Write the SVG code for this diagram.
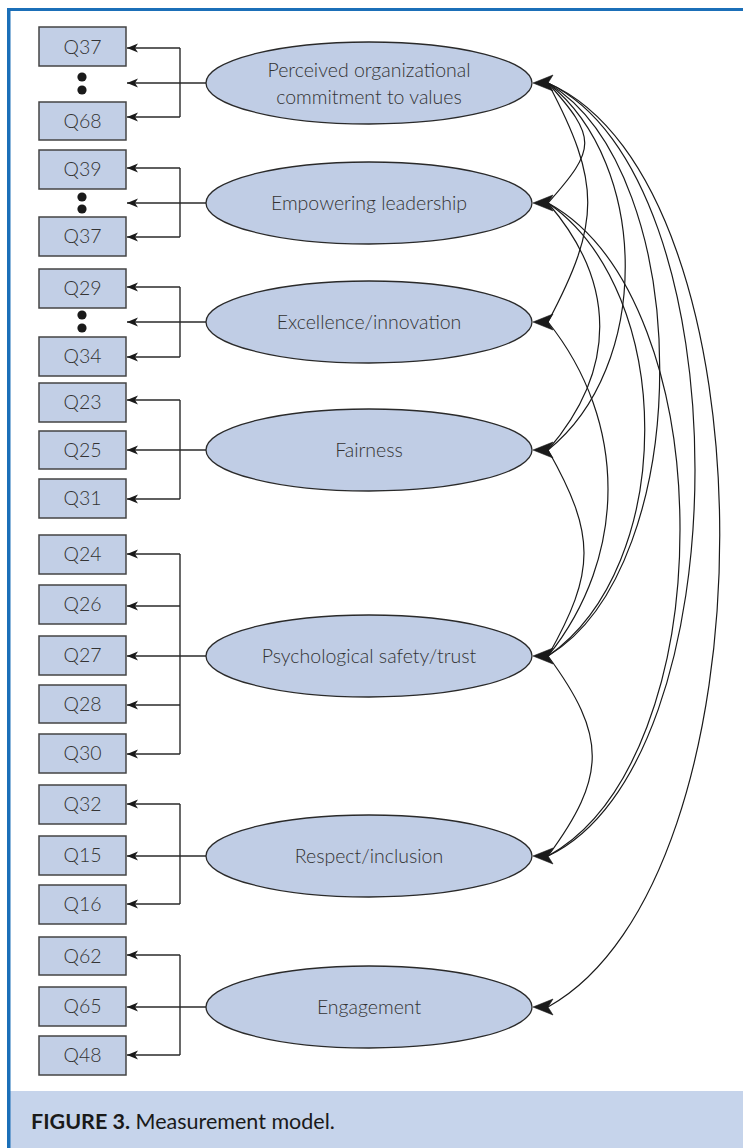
<svg xmlns="http://www.w3.org/2000/svg" width="743" height="1148" viewBox="0 0 743 1148">
<style>
.box{fill:#c2cfe6;stroke:#444;stroke-width:1.5}
.ell{fill:#c0cde5;stroke:#2a2a2a;stroke-width:1.3}
.bt{font-family:Lato,"Open Sans",sans-serif;font-weight:300;font-size:19.5px;fill:#333;text-anchor:middle}
.et{font-family:Lato,"Open Sans",sans-serif;font-weight:300;font-size:19.5px;fill:#333;text-anchor:middle}
.ln{fill:none;stroke:#2a2a2a;stroke-width:1.4}
.cv{fill:none;stroke:#1a1a1a;stroke-width:1.2}
.arr{marker-end:url(#sa)}
.dot{fill:#1a1a1a}
.bh{fill:#1a1a1a;stroke:#1a1a1a;stroke-width:0.6}
.cap{font-family:Lato,"Open Sans",sans-serif;font-size:21.5px;fill:#1a1a1a}
</style>
<defs>
<marker id="sa" markerUnits="userSpaceOnUse" markerWidth="12" markerHeight="10" viewBox="0 -5 12 10" refX="11" refY="0" orient="auto">
<path d="M0,-4.5 L11,0 L0,4.5 L3,0 Z" fill="#1a1a1a"/>
</marker>
</defs>
<rect x="0" y="0" width="743" height="1148" fill="#fff"/>
<rect x="10" y="1091" width="733" height="57" fill="#c6d4eb"/>
<rect x="7" y="8" width="736" height="3" fill="#1b6fb8"/>
<rect x="7" y="8" width="3.5" height="1140" fill="#1b6fb8"/>

<g id="connectors">
<path class="ln arr" d="M206,83 H127"/>
<path class="ln" d="M180,48 V117"/>
<path class="ln arr" d="M180,48 H127"/>
<path class="ln arr" d="M180,117 H127"/>

<path class="ln arr" d="M206,203 H127"/>
<path class="ln" d="M180,168 V237"/>
<path class="ln arr" d="M180,168 H127"/>
<path class="ln arr" d="M180,237 H127"/>

<path class="ln arr" d="M206,322 H127"/>
<path class="ln" d="M180,287 V357"/>
<path class="ln arr" d="M180,287 H127"/>
<path class="ln arr" d="M180,357 H127"/>

<path class="ln arr" d="M206,450 H127"/>
<path class="ln" d="M180,400 V499"/>
<path class="ln arr" d="M180,400 H127"/>
<path class="ln arr" d="M180,499 H127"/>

<path class="ln arr" d="M206,656 H127"/>
<path class="ln" d="M180,554 V754"/>
<path class="ln arr" d="M180,554 H127"/>
<path class="ln arr" d="M180,606 H127"/>
<path class="ln arr" d="M180,705 H127"/>
<path class="ln arr" d="M180,754 H127"/>

<path class="ln arr" d="M206,856 H127"/>
<path class="ln" d="M180,804 V904"/>
<path class="ln arr" d="M180,804 H127"/>
<path class="ln arr" d="M180,904 H127"/>

<path class="ln arr" d="M206,1007 H127"/>
<path class="ln" d="M180,955 V1055"/>
<path class="ln arr" d="M180,955 H127"/>
<path class="ln arr" d="M180,1055 H127"/>

<path class="cv" d="M548,83 C597,138 597,148 548,203"/>
<path class="cv" d="M548,83 C601,183 601,222 548,322"/>
<path class="cv" d="M548,83 C651,165 651,368 548,450"/>
<path class="cv" d="M548,203 C617,283 617,370 548,450"/>
<path class="cv" d="M548,83 C697,173 697,566 548,656"/>
<path class="cv" d="M548,203 C677,293 677,566 548,656"/>
<path class="cv" d="M548,322 C628,422 628,556 548,656"/>
<path class="cv" d="M548,450 C596,535 596,571 548,656"/>
<path class="cv" d="M548,83 C744,175 744,764 548,856"/>
<path class="cv" d="M548,203 C724,300 724,759 548,856"/>
<path class="cv" d="M548,83 C777,183 777,880 548,1007"/>
<path class="cv" d="M548,656 C607,736 607,776 548,856"/>

<path class="bh" d="M533,83 l20,-8 l-5,8 l5,8 z"/>
<path class="bh" d="M533,203 l20,-8 l-5,8 l5,8 z"/>
<path class="bh" d="M533,322 l20,-8 l-5,8 l5,8 z"/>
<path class="bh" d="M533,450 l20,-8 l-5,8 l5,8 z"/>
<path class="bh" d="M533,656 l20,-8 l-5,8 l5,8 z"/>
<path class="bh" d="M533,856 l20,-8 l-5,8 l5,8 z"/>
<path class="bh" d="M533,1007 l20,-8 l-5,8 l5,8 z"/>
</g>

<g id="f1"><ellipse class="ell" cx="369" cy="83" rx="163" ry="41"/><text class="et" x="369" y="77">Perceived organizational</text><text class="et" x="369" y="104">commitment to values</text></g>
<g id="f2"><ellipse class="ell" cx="369" cy="203" rx="163" ry="41"/><text class="et" x="369" y="210">Empowering leadership</text></g>
<g id="f3"><ellipse class="ell" cx="369" cy="322" rx="163" ry="41"/><text class="et" x="369" y="329">Excellence/innovation</text></g>
<g id="f4"><ellipse class="ell" cx="369" cy="450" rx="163" ry="41"/><text class="et" x="369" y="457">Fairness</text></g>
<g id="f5"><ellipse class="ell" cx="369" cy="656" rx="163" ry="41"/><text class="et" x="369" y="663">Psychological safety/trust</text></g>
<g id="f6"><ellipse class="ell" cx="369" cy="856" rx="163" ry="41"/><text class="et" x="369" y="863">Respect/inclusion</text></g>
<g id="f7"><ellipse class="ell" cx="369" cy="1007" rx="163" ry="41"/><text class="et" x="369" y="1014">Engagement</text></g>

<g id="q37a"><rect class="box" x="39" y="27" width="87" height="39"/><text class="bt" x="82.5" y="54">Q37</text></g>
<g id="dots1"><circle class="dot" cx="82" cy="77" r="4.6"/><circle class="dot" cx="82" cy="90" r="4.6"/></g>
<g id="q68"><rect class="box" x="39" y="102" width="87" height="38"/><text class="bt" x="82.5" y="128">Q68</text></g>
<g id="q39"><rect class="box" x="39" y="150" width="87" height="39"/><text class="bt" x="82.5" y="176">Q39</text></g>
<g id="dots2"><circle class="dot" cx="82" cy="197" r="4.6"/><circle class="dot" cx="82" cy="209" r="4.6"/></g>
<g id="q37b"><rect class="box" x="39" y="217" width="87" height="39"/><text class="bt" x="82.5" y="243">Q37</text></g>
<g id="q29"><rect class="box" x="39" y="269" width="87" height="39"/><text class="bt" x="82.5" y="295">Q29</text></g>
<g id="dots3"><circle class="dot" cx="82" cy="315" r="4.6"/><circle class="dot" cx="82" cy="328" r="4.6"/></g>
<g id="q34"><rect class="box" x="39" y="337" width="87" height="39"/><text class="bt" x="82.5" y="363">Q34</text></g>
<g id="q23"><rect class="box" x="39" y="383" width="87" height="39"/><text class="bt" x="82.5" y="409">Q23</text></g>
<g id="q25"><rect class="box" x="39" y="431" width="87" height="38"/><text class="bt" x="82.5" y="457">Q25</text></g>
<g id="q31"><rect class="box" x="39" y="479" width="87" height="39"/><text class="bt" x="82.5" y="505">Q31</text></g>
<g id="q24"><rect class="box" x="39" y="535" width="87" height="39"/><text class="bt" x="82.5" y="561">Q24</text></g>
<g id="q26"><rect class="box" x="39" y="585" width="87" height="39"/><text class="bt" x="82.5" y="611">Q26</text></g>
<g id="q27"><rect class="box" x="39" y="636" width="87" height="39"/><text class="bt" x="82.5" y="662">Q27</text></g>
<g id="q28"><rect class="box" x="39" y="685" width="87" height="38"/><text class="bt" x="82.5" y="711">Q28</text></g>
<g id="q30"><rect class="box" x="39" y="734" width="87" height="39"/><text class="bt" x="82.5" y="760">Q30</text></g>
<g id="q32"><rect class="box" x="39" y="785" width="87" height="39"/><text class="bt" x="82.5" y="811">Q32</text></g>
<g id="q15"><rect class="box" x="39" y="836" width="87" height="39"/><text class="bt" x="82.5" y="862">Q15</text></g>
<g id="q16"><rect class="box" x="39" y="885" width="87" height="39"/><text class="bt" x="82.5" y="911">Q16</text></g>
<g id="q62"><rect class="box" x="39" y="937" width="87" height="38"/><text class="bt" x="82.5" y="963">Q62</text></g>
<g id="q65"><rect class="box" x="39" y="987" width="87" height="39"/><text class="bt" x="82.5" y="1013">Q65</text></g>
<g id="q48"><rect class="box" x="39" y="1036" width="87" height="39"/><text class="bt" x="82.5" y="1062">Q48</text></g>

<g id="caption"><text class="cap" x="31" y="1129"><tspan font-weight="bold">FIGURE 3.</tspan> Measurement model.</text></g>
</svg>
